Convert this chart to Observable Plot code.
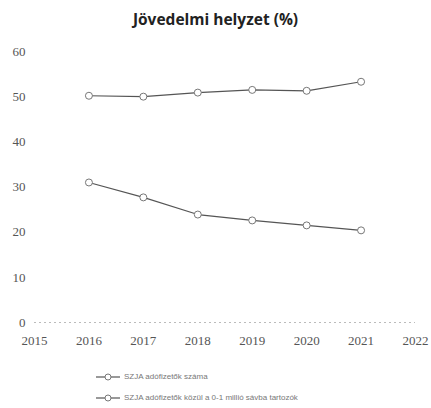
<!DOCTYPE html>
<html><head><meta charset="utf-8">
<script src="https://cdn.jsdelivr.net/npm/d3@7"></script>
<script src="https://cdn.jsdelivr.net/npm/@observablehq/plot@0.6"></script>
<style>
body{margin:0;background:#fff;width:431px;height:408px;overflow:hidden;}
#title{height:35px;line-height:39px;text-align:center;font-family:"Open Sans",sans-serif;font-weight:bold;font-size:15.5px;color:#222;}
#legend{font-family:"Liberation Sans",sans-serif;font-size:8px;color:#777;margin-top:1px;}
.row{display:flex;align-items:center;height:21px;padding-left:96px;}
.row svg{margin-right:4px;}
</style></head><body>
<div id="title">Jövedelmi helyzet (%)</div>
<div id="chart"></div>
<div id="legend"></div>
<script>
const years = [2016, 2017, 2018, 2019, 2020, 2021];
const seriesNames = ["SZJA adófizetők száma", "SZJA adófizetők közül a 0-1 millió sávba tartozók"];
const taxpayers = [50.2, 50.0, 50.9, 51.5, 51.3, 53.3];
const lowBand = [31.0, 27.7, 23.9, 22.6, 21.5, 20.4];
const xTicks = [2015, 2016, 2017, 2018, 2019, 2020, 2021, 2022];
const yTicks = [0, 10, 20, 30, 40, 50, 60];

const data = [];
years.forEach((y, i) => {
  data.push({year: y, value: taxpayers[i], series: seriesNames[0]});
  data.push({year: y, value: lowBand[i], series: seriesNames[1]});
});

const chart = Plot.plot({
  width: 431, height: 330,
  marginTop: 16, marginBottom: 43, marginLeft: 34, marginRight: 16,
  style: {fontFamily: "Liberation Serif, serif", fontSize: "13px", color: "#555", background: "#fff"},
  x: {domain: [2015, 2022], ticks: xTicks, tickFormat: d => String(d), tickSize: 0, tickPadding: 13, label: null},
  y: {domain: [0, 60], ticks: yTicks, tickSize: 0, tickPadding: 9, label: null},
  marks: [
    Plot.ruleY([0], {stroke: "#bbb", strokeDasharray: "2,3", strokeWidth: 1}),
    Plot.line(data, {x: "year", y: "value", z: "series", stroke: "#555", strokeWidth: 1.2}),
    Plot.dot(data, {x: "year", y: "value", symbol: "circle", r: 3.5, stroke: "#777", fill: "#fff", strokeWidth: 1})
  ]
});
document.getElementById("chart").appendChild(chart);

const legend = document.getElementById("legend");
seriesNames.forEach(name => {
  const row = document.createElement("div");
  row.className = "row";
  row.innerHTML = `<svg width="24" height="10"><line x1="0" y1="5" x2="24" y2="5" stroke="#555" stroke-width="1.2"/><circle cx="12" cy="5" r="3" fill="#fff" stroke="#777"/></svg><span>${name}</span>`;
  legend.appendChild(row);
});
</script>
</body></html>
